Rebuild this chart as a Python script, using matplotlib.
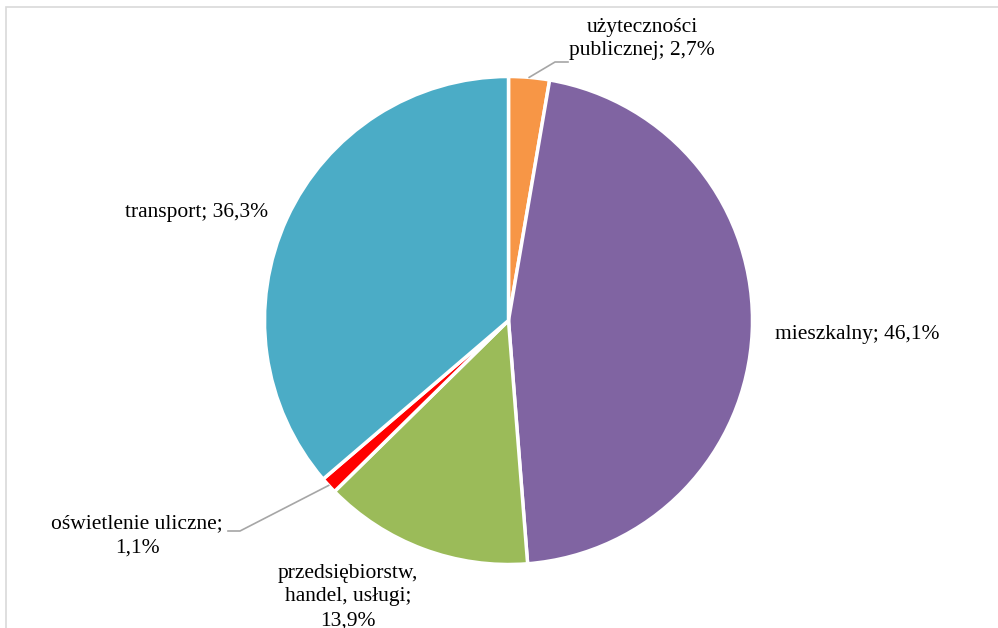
import numpy as np
import matplotlib
matplotlib.use("Agg")
import matplotlib.pyplot as plt
from matplotlib.patches import Rectangle

# Data
labels = ["użyteczności\npublicznej; 2,7%", "mieszkalny; 46,1%",
          "przedsiębiorstw,\nhandel, usługi;\n13,9%", "oświetlenie uliczne;\n1,1%",
          "transport; 36,3%"]
values = [2.7, 46.1, 13.9, 1.1, 36.3]
colors = ["#F79646", "#8064A2", "#9BBB59", "#FF0000", "#4BACC6"]

plt.rcParams['font.family'] = ['Liberation Serif', 'DejaVu Serif']

W, H = 998, 628
fig = plt.figure(figsize=(W / 100, H / 100), dpi=100)
ax = fig.add_axes([0, 0, 1, 1])

# chart frame
fig.patches.append(Rectangle((6 / W, -0.05), 1.2, (H - 7) / H + 0.05, transform=fig.transFigure,
                             fill=False, edgecolor="#D9D9D9", linewidth=1.2))

cx, cy, r = 508.5, H - 320.5, 244
wedges, _ = ax.pie(values, colors=colors, startangle=90, counterclock=False,
                   center=(cx, cy), radius=r, frame=True,
                   wedgeprops=dict(edgecolor="white", linewidth=2.5))
ax.set_xlim(0, W)
ax.set_ylim(0, H)
ax.set_aspect('equal')
ax.axis('off')

fs = 15.5
tot = sum(values)
cum = np.cumsum([0] + values[:-1])
mids = [90 - (c + v / 2) / tot * 360 for c, v in zip(cum, values)]

def edge(i):
    a = np.radians(mids[i])
    return cx + r * np.cos(a), cy + r * np.sin(a)

# label positions (pixel coords, y from top)
pos = [(642, 39, 'center'), (775, 335, 'left'), (348, 597, 'center'),
       (137, 536, 'center'), (125, 212, 'left')]
for i, (x, y, ha) in enumerate(pos):
    ax.text(x, H - y, labels[i], fontsize=fs, ha=ha, va='center', linespacing=1.33)

# leader lines for small slices
x0, y0 = edge(0)
ax.plot([x0, 555, 568], [y0, H - 62, H - 62], color="#A6A6A6", lw=1.2)
x3, y3 = edge(3)
ax.plot([x3, 240, 228], [y3, H - 531, H - 531], color="#A6A6A6", lw=1.2)

fig.savefig("out.png", dpi=100)
